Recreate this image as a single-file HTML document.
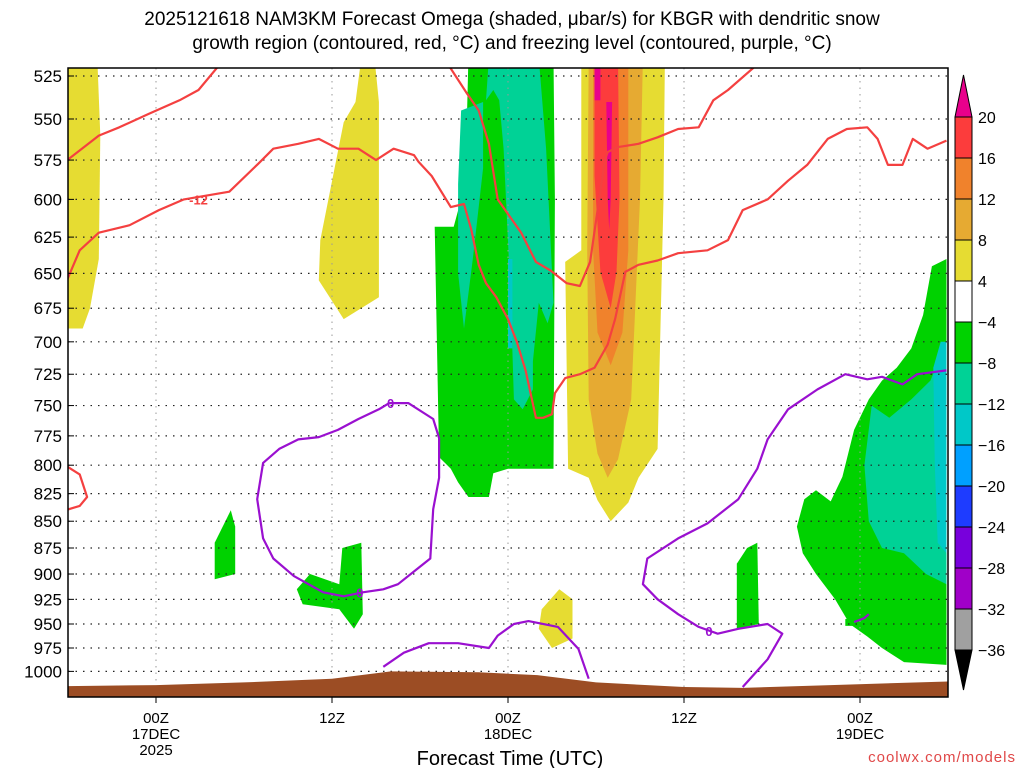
<!DOCTYPE html>
<html><head><meta charset="utf-8">
<style>
body{margin:0;background:#fff;}
svg{display:block;font-family:"Liberation Sans","DejaVu Sans",sans-serif;}
</style></head>
<body>
<svg id="chart" width="1024" height="768" viewBox="0 0 1024 768">
<text x="512" y="25" text-anchor="middle" font-size="19">2025121618 NAM3KM Forecast Omega (shaded, μbar/s) for KBGR with dendritic snow</text>
<text x="512" y="49" text-anchor="middle" font-size="19">growth region (contoured, red, °C) and freezing level (contoured, purple, °C)</text>
<defs><clipPath id="plotclip"><rect x="68" y="68" width="880" height="629"/></clipPath></defs>
<g id="shading" clip-path="url(#plotclip)"></g>
<g id="grid"></g>
<g id="contours" clip-path="url(#plotclip)"></g>
<g id="terrain" clip-path="url(#plotclip)"></g>
<rect x="68" y="68" width="880" height="629" fill="none" stroke="#000" stroke-width="1.5"/>
<g id="axes"></g>
<g id="colorbar"></g>
<text x="510" y="765" text-anchor="middle" font-size="20">Forecast Time (UTC)</text>
<text x="1016" y="762" text-anchor="end" font-size="15" fill="#e04848" letter-spacing="1">coolwx.com/models</text>
</svg>
<script>
// ---- data ----
const yTicks = [525,550,575,600,625,650,675,700,725,750,775,800,825,850,875,900,925,950,975,1000];
const xTickHours = [0,12,24,36,48];
const xTickLabels = ["00Z","12Z","00Z","12Z","00Z"];
const xDayLabels = ["17DEC","","18DEC","","19DEC"];
const xYearLabels = ["2025","","","",""];
const cbLevels = ["20","16","12","8","4","-4","-8","-12","-16","-20","-24","-28","-32","-36"];
const cbColors = ["#fc3c3c","#f0822c","#e6aa32","#e6dc32","#ffffff","#00d200","#00d296","#00c8c8","#00a0ff","#1e3cff","#7800dc","#a000c8","#a0a0a0"];

const yellowLeft = [[-6.2,515],[-4,515],[-3.8,560],[-3.9,640],[-4.5,675],[-5,690],[-6.2,690]];
const yellowMid = [[14.0,515],[14.9,515],[15.2,540],[15.2,667],[12.8,683],[11.1,655],[11.2,627],[12.8,552],[13.6,540]];
const greenCenter = [[21.3,515],[27.1,515],[27.2,600],[27.1,803],[25.4,803],[24,803],[23,807],[22.7,828],[21.3,828],[20.6,815],[20.1,803],[19.3,793],[19,618],[20.3,618],[20.8,600],[21.2,550]];
const tealCenter = [[22.7,515],[26.1,515],[26.6,568],[27.1,671],[26.7,686],[26.1,671],[25.7,715],[25.7,737],[25,753],[24.4,745],[24.2,671],[23.7,568],[23.4,539],[23,533],[22.5,539]];
const tealCenterLeft = [[20.8,545],[22.3,540],[22.3,580],[21.6,640],[21.0,690],[20.6,650],[20.6,590]];
const cyanCenter = [[24.0,640],[24.3,640],[24.3,705],[24.0,705]];
const yellowCore = [[29,515],[34.7,515],[34.6,600],[34.2,786],[32.9,811],[32.2,833],[31,850],[30.1,831],[29.5,811],[28.1,803],[27.9,642],[29,634]];
const goldCore = [[29.5,515],[33.2,515],[33,600],[32.4,745],[31.5,795],[30.8,811],[30.1,790],[29.5,745],[29.4,634]];
const orangeCore = [[29.8,515],[32.2,515],[32.2,634],[31.8,693],[31,718],[30.1,693],[29.8,634]];
const redCore = [[29.9,515],[31.5,515],[31.6,600],[31.4,649],[31,675],[30.3,649],[29.9,585]];
const magentaCore1 = [[29.9,515],[30.3,515],[30.3,539],[29.9,539]];
const magentaCore2 = [[30.7,540],[31.1,540],[31.0,600],[30.9,620],[30.8,600]];
const greenRight = [[53.9,640],[53.9,993],[51,990],[49.5,975],[48.5,963],[47.3,950],[46.3,925],[45,900],[44.1,880],[43.7,855],[44.2,830],[45,822],[46,832],[46.8,810],[47.6,770],[48.6,745],[49.5,730],[50.5,720],[51.5,705],[52.3,680],[52.9,645]];
const tealRight = [[48.8,750],[50,760],[51.5,745],[52.8,730],[53.9,700],[53.9,910],[52.5,900],[51,880],[49.5,875],[48.6,850],[48.3,800]];
const cyanRight = [[53,720],[53.5,700],[53.9,700],[53.9,880],[53.3,870],[53.1,800]];
const greenBlob1 = [[4,870],[5.1,840],[5.4,855],[5.4,900],[4.0,905]];
const greenBlob2 = [[9.6,915],[10.5,900],[12.5,910],[12.7,875],[14.0,870],[14.1,940],[13.5,955],[12.5,935],[10.0,930]];
const greenBlob3 = [[39.6,890],[40.3,875],[41.0,870],[41.1,950],[39.6,955]];
const greenBlob4 = [[47,945],[48.8,940],[48.8,952],[47,952]];
const yellowBlob3 = [[26.3,935],[27.5,915],[28.4,925],[28.4,965],[27,975],[26.1,955]];

const redLineTop = [[-6.2,576],[-3.9,560],[-2.5,555],[-0.5,547],[1.6,539],[2.9,533],[4.4,518]];
const redLineA = [[19.8,517],[21.2,535],[22,545],[22.7,565],[23.3,600],[24.9,622],[25.9,642],[26.9,648],[28,657],[28.9,659],[29.6,642],[30.6,575],[30.8,570],[31.5,567],[32.9,565],[34.2,561],[35.6,556],[37,555],[38,539],[39,533],[41.2,517]];
const redLineB = [[-6.2,658],[-5.2,634],[-3.9,622],[-1.8,617],[0.2,607],[1.9,600],[5,595],[7,577],[8,568],[9.7,565],[11.1,562],[12.4,568],[13.8,568],[15,575],[16.2,568],[17.6,572],[17.9,576],[18.8,585],[20.1,605],[21,603],[21.5,620],[22,644],[22.5,657],[23.2,667],[24,683],[24.6,700],[25.2,722],[25.9,760],[26.4,760],[27,757],[27.2,740],[27.9,728],[28.9,725],[29.9,720],[30.8,702],[31.3,683],[32,649],[32.9,644],[34.2,641],[35.6,636],[37.6,634],[39,627],[40,607],[41.7,600],[43.1,588],[44.4,578],[45.8,562],[47.1,556],[48.5,555],[49.2,562],[49.9,578],[50.9,578],[51.6,562],[52.6,568],[53.9,563]];
const redLineLow = [[-6.2,800],[-5.2,808],[-4.7,828],[-5.2,836],[-6.2,840]];
const purpleLoop = [[15.9,748],[17.2,748],[18.9,761],[19.3,777],[19.3,811],[18.9,839],[18.7,885],[17.9,894],[16.5,910],[15.5,915],[14.1,918],[12.8,922],[11.4,918],[10.4,910],[9.4,902],[8,885],[7.3,866],[6.9,830],[7.3,798],[8.4,786],[9.7,778],[11.1,776],[12.4,770],[13.8,761],[15.2,753],[15.9,748]];
const purpleBottom = [[15.5,995],[16.9,980],[18.6,970],[20.6,970],[22.7,975],[23.3,962],[24.4,950],[25.4,947],[27.4,953],[28.8,976],[29.5,1008]];
const purpleRight = [[40,1017],[41.7,987],[42.7,960],[41.7,950],[39.7,955],[38.3,960],[37,953],[35.6,940],[34.2,925],[33.2,910],[33.5,885],[35.6,866],[37.6,852],[39.7,830],[41,803],[41.7,778],[43.1,753],[45.1,737],[47,725],[48.5,729],[49.5,727],[50.9,733],[51.9,725],[53.9,722]];
const purpleSmall = [[47.6,948],[48.3,944],[48.6,940]];
const terrainP = [[-6.2,1016],[0,1015],[6,1012],[12,1008],[16,1000],[22,1001],[26,1004],[30,1012],[36,1017],[40,1018],[46,1015],[54,1011]];

// ---- scales ----
const NS = "http://www.w3.org/2000/svg";
function X(h){ return 68 + (h + 6) * 880 / 60; }
function Y(p){ return 76 + 924 * Math.log(p / 525); }
function mk(tag, attrs, parent){ const e = document.createElementNS(NS, tag); for (const k in attrs) e.setAttribute(k, attrs[k]); parent.appendChild(e); return e; }
function pts(a){ return a.map(d => X(d[0]).toFixed(1) + "," + Y(d[1]).toFixed(1)).join(" "); }

const shading = document.getElementById("shading");
const shadeList = [
 [yellowLeft,"#e6dc32","omega-yellow-left"],[yellowMid,"#e6dc32","omega-yellow-mid"],
 [greenCenter,"#00d200","omega-green-center"],[tealCenter,"#00d296","omega-teal-center"],[tealCenterLeft,"#00d296","omega-teal-center-left"],[cyanCenter,"#00c8c8","omega-cyan-center"],
 [yellowCore,"#e6dc32","omega-yellow-core"],[goldCore,"#e6aa32","omega-gold-core"],[orangeCore,"#f0822c","omega-orange-core"],[redCore,"#fc3c3c","omega-red-core"],[magentaCore1,"#e8008c","omega-magenta-core-1"],[magentaCore2,"#e8008c","omega-magenta-core-2"],
 [greenRight,"#00d200","omega-green-right"],[tealRight,"#00d296","omega-teal-right"],[cyanRight,"#00c8c8","omega-cyan-right"],
 [greenBlob1,"#00d200","omega-green-blob-1"],[greenBlob2,"#00d200","omega-green-blob-2"],[greenBlob3,"#00d200","omega-green-blob-3"],[greenBlob4,"#00d200","omega-green-blob-4"],[yellowBlob3,"#e6dc32","omega-yellow-blob-3"]
];
shadeList.forEach(s => {
  const e = mk("polygon", {points: pts(s[0]), fill: s[1]}, shading);
  
  
});

// grid
const grid = document.getElementById("grid");
yTicks.forEach(p => {
  const l = mk("line", {x1: 68, x2: 948, y1: Y(p), y2: Y(p), stroke: "#222", "stroke-width": 1.2, "stroke-dasharray": "1.5,6"}, grid);
  
  
});
xTickHours.forEach(h => {
  const l = mk("line", {x1: X(h), x2: X(h), y1: 68, y2: 697, stroke: "#999", "stroke-width": 1, "stroke-dasharray": "1.5,5"}, grid);
  
  
});

// contours
const cont = document.getElementById("contours");
[[redLineTop,"#f44040","dgz-contour-top"],[redLineA,"#f44040","dgz-contour-a"],[redLineB,"#f44040","dgz-contour-b"],[redLineLow,"#f44040","dgz-contour-low"],
 [purpleLoop,"#9a10d0","freezing-contour-loop"],[purpleBottom,"#9a10d0","freezing-contour-bottom"],[purpleRight,"#9a10d0","freezing-contour-right"],[purpleSmall,"#9a10d0","freezing-contour-small"]].forEach(c => {
  const e = mk("polyline", {points: pts(c[0]), fill: "none", stroke: c[1], "stroke-width": 2.2, "stroke-linejoin": "round"}, cont);
  
  
});
const labs = [[2.9,600,"-12","#f44040"],[16,748,"0","#9a10d0"],[13.9,918,"0","#9a10d0"],[37.7,957,"0","#9a10d0"]];
labs.forEach(l => {
  const r = mk("rect", {x: X(l[0]) - (l[2].length * 5), y: Y(l[1]) - 7, width: l[2].length * 10, height: 14, fill: "#fff", opacity: 0}, cont);
  const t = mk("text", {x: X(l[0]), y: Y(l[1]) + 5, "text-anchor": "middle", "font-size": 13, "font-weight": "bold", fill: l[3]}, cont);
  t.textContent = l[2];
  
  
});

// terrain
const terr = document.getElementById("terrain");
const tp = pts(terrainP) + " " + X(54) + "," + Y(1035) + " " + X(-6.2) + "," + Y(1035);
const te = mk("polygon", {points: tp, fill: "#9c4d24"}, terr);



// axes
const axes = document.getElementById("axes");
yTicks.forEach(p => {
  const t = mk("text", {x: 62, y: Y(p) + 6, "text-anchor": "end", "font-size": 17}, axes);
  t.textContent = p;
  
  
  const k = mk("line", {x1: 68, x2: 74, y1: Y(p), y2: Y(p), stroke: "#000"}, axes);
  
  
});
xTickHours.forEach((h, i) => {
  [[xTickLabels[i],723],[xDayLabels[i],739],[xYearLabels[i],755]].forEach(r => {
    if (!r[0]) return;
    const t = mk("text", {x: X(h), y: r[1], "text-anchor": "middle", "font-size": 15}, axes);
    t.textContent = r[0];
    
    
  });
  const k = mk("line", {x1: X(h), x2: X(h), y1: 697, y2: 703, stroke: "#000"}, axes);
  
  
});

// colorbar
const cb = document.getElementById("colorbar");
const cbX = 955, cbW = 17, cbTop = 117, cbStep = 41;
const tri1 = mk("polygon", {points: `${cbX},${cbTop} ${cbX+cbW},${cbTop} ${cbX+cbW/2},75`, fill: "#e8008c", stroke: "#000", "stroke-width": 1}, cb);


cbColors.forEach((c, i) => {
  const r = mk("rect", {x: cbX, y: cbTop + i * cbStep, width: cbW, height: cbStep, fill: c, stroke: "#000", "stroke-width": 1}, cb);
  
  
});
const yb = cbTop + cbColors.length * cbStep;
const tri2 = mk("polygon", {points: `${cbX},${yb} ${cbX+cbW},${yb} ${cbX+cbW/2},690`, fill: "#000", stroke: "#000", "stroke-width": 1}, cb);


cbLevels.forEach((v, i) => {
  const t = mk("text", {x: 978, y: cbTop + i * cbStep + 6, "font-size": 16}, cb);
  t.textContent = v.replace("-", "\u2212");
  
  
});
</script>
</body></html>
